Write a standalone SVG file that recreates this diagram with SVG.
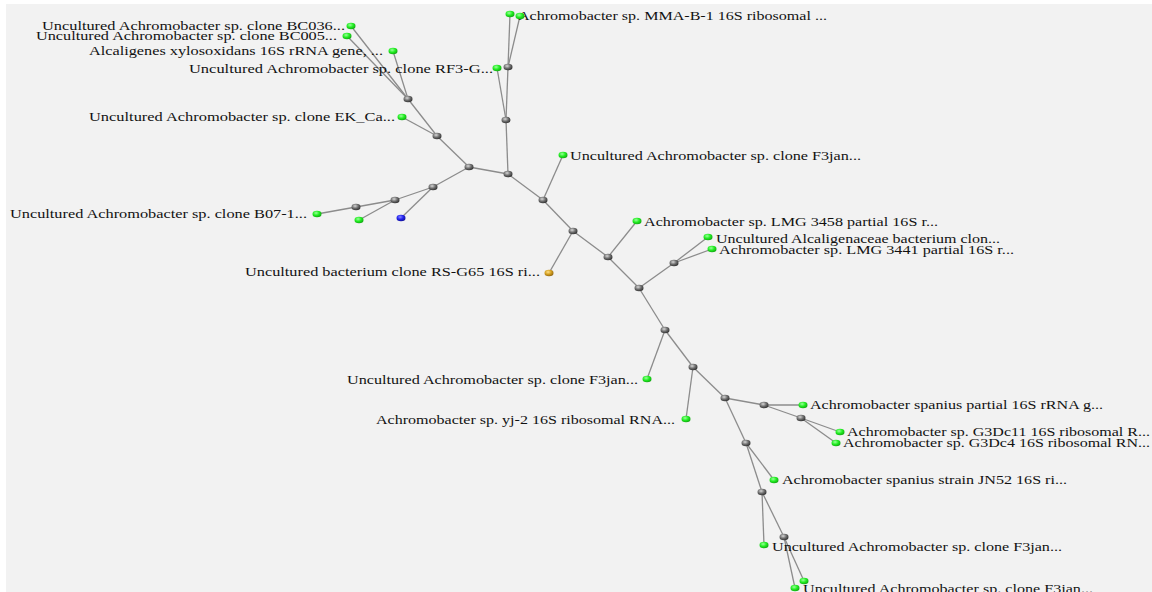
<svg xmlns="http://www.w3.org/2000/svg" width="1152" height="592" viewBox="0 0 1152 592">
<defs>
<radialGradient id="gInt" cx="0.4" cy="0.35" r="0.7"><stop offset="0" stop-color="#d8d8d8"/><stop offset="0.5" stop-color="#707070"/><stop offset="1" stop-color="#2a2a2a"/></radialGradient>
<radialGradient id="gLeaf" cx="0.4" cy="0.35" r="0.7"><stop offset="0" stop-color="#9dff9d"/><stop offset="0.5" stop-color="#22ee22"/><stop offset="1" stop-color="#10a010"/></radialGradient>
<radialGradient id="gBlue" cx="0.4" cy="0.35" r="0.7"><stop offset="0" stop-color="#8a8aff"/><stop offset="0.5" stop-color="#2222ee"/><stop offset="1" stop-color="#101090"/></radialGradient>
<radialGradient id="gGold" cx="0.4" cy="0.35" r="0.7"><stop offset="0" stop-color="#ffe08a"/><stop offset="0.5" stop-color="#d4a020"/><stop offset="1" stop-color="#8a6010"/></radialGradient>
</defs>
<style>
.e{stroke:#8c8c8c;stroke-width:1.3;fill:none}
.n{fill:url(#gInt)}
.l{fill:url(#gLeaf)}
text{font-family:"Liberation Serif","Times New Roman",serif;font-size:12.5px;fill:#111}
</style>
<rect x="0" y="0" width="1152" height="592" fill="#ffffff"/>
<rect x="6" y="4" width="1146" height="588" fill="#f2f2f2"/>
<g id="connectors">
<line class="e" x1="408" y1="99" x2="351" y2="26"/>
<line class="e" x1="408" y1="99" x2="347" y2="36"/>
<line class="e" x1="408" y1="99" x2="393" y2="51"/>
<line class="e" x1="437" y1="136" x2="408" y2="99"/>
<line class="e" x1="437" y1="136" x2="402" y2="117"/>
<line class="e" x1="469" y1="167" x2="437" y2="136"/>
<line class="e" x1="469" y1="167" x2="508" y2="174"/>
<line class="e" x1="469" y1="167" x2="433" y2="187"/>
<line class="e" x1="433" y1="187" x2="395" y2="200"/>
<line class="e" x1="433" y1="187" x2="401" y2="218"/>
<line class="e" x1="395" y1="200" x2="356" y2="207"/>
<line class="e" x1="395" y1="200" x2="359" y2="220"/>
<line class="e" x1="356" y1="207" x2="317" y2="214"/>
<line class="e" x1="508" y1="174" x2="506" y2="120"/>
<line class="e" x1="506" y1="120" x2="508" y2="67"/>
<line class="e" x1="506" y1="120" x2="497" y2="68"/>
<line class="e" x1="508" y1="67" x2="510" y2="14"/>
<line class="e" x1="508" y1="67" x2="520" y2="16"/>
<line class="e" x1="508" y1="174" x2="543" y2="200"/>
<line class="e" x1="543" y1="200" x2="563" y2="155"/>
<line class="e" x1="543" y1="200" x2="573" y2="231"/>
<line class="e" x1="573" y1="231" x2="549" y2="273"/>
<line class="e" x1="573" y1="231" x2="608" y2="257"/>
<line class="e" x1="608" y1="257" x2="637" y2="221"/>
<line class="e" x1="608" y1="257" x2="639" y2="288"/>
<line class="e" x1="639" y1="288" x2="674" y2="263"/>
<line class="e" x1="674" y1="263" x2="708" y2="237"/>
<line class="e" x1="674" y1="263" x2="712" y2="249"/>
<line class="e" x1="639" y1="288" x2="665" y2="330"/>
<line class="e" x1="665" y1="330" x2="647" y2="379"/>
<line class="e" x1="665" y1="330" x2="693" y2="367"/>
<line class="e" x1="693" y1="367" x2="686" y2="419"/>
<line class="e" x1="693" y1="367" x2="725" y2="398"/>
<line class="e" x1="725" y1="398" x2="764" y2="405"/>
<line class="e" x1="764" y1="405" x2="803" y2="405"/>
<line class="e" x1="764" y1="405" x2="801" y2="418"/>
<line class="e" x1="801" y1="418" x2="840" y2="432"/>
<line class="e" x1="801" y1="418" x2="836" y2="443"/>
<line class="e" x1="725" y1="398" x2="746" y2="443"/>
<line class="e" x1="746" y1="443" x2="774" y2="480"/>
<line class="e" x1="746" y1="443" x2="762" y2="492"/>
<line class="e" x1="762" y1="492" x2="764" y2="545"/>
<line class="e" x1="762" y1="492" x2="784" y2="537"/>
<line class="e" x1="784" y1="537" x2="804" y2="581"/>
<line class="e" x1="784" y1="537" x2="795" y2="588"/>
</g>
<g id="internal-nodes">
<ellipse class="n" cx="408" cy="99" rx="4.5" ry="3.3"/>
<ellipse class="n" cx="437" cy="136" rx="4.5" ry="3.3"/>
<ellipse class="n" cx="469" cy="167" rx="4.5" ry="3.3"/>
<ellipse class="n" cx="433" cy="187" rx="4.5" ry="3.3"/>
<ellipse class="n" cx="395" cy="200" rx="4.5" ry="3.3"/>
<ellipse class="n" cx="356" cy="207" rx="4.5" ry="3.3"/>
<ellipse class="n" cx="508" cy="174" rx="4.5" ry="3.3"/>
<ellipse class="n" cx="506" cy="120" rx="4.5" ry="3.3"/>
<ellipse class="n" cx="508" cy="67" rx="4.5" ry="3.3"/>
<ellipse class="n" cx="543" cy="200" rx="4.5" ry="3.3"/>
<ellipse class="n" cx="573" cy="231" rx="4.5" ry="3.3"/>
<ellipse class="n" cx="608" cy="257" rx="4.5" ry="3.3"/>
<ellipse class="n" cx="639" cy="288" rx="4.5" ry="3.3"/>
<ellipse class="n" cx="674" cy="263" rx="4.5" ry="3.3"/>
<ellipse class="n" cx="665" cy="330" rx="4.5" ry="3.3"/>
<ellipse class="n" cx="693" cy="367" rx="4.5" ry="3.3"/>
<ellipse class="n" cx="725" cy="398" rx="4.5" ry="3.3"/>
<ellipse class="n" cx="764" cy="405" rx="4.5" ry="3.3"/>
<ellipse class="n" cx="801" cy="418" rx="4.5" ry="3.3"/>
<ellipse class="n" cx="746" cy="443" rx="4.5" ry="3.3"/>
<ellipse class="n" cx="762" cy="492" rx="4.5" ry="3.3"/>
<ellipse class="n" cx="784" cy="537" rx="4.5" ry="3.3"/>
</g>
<g id="leaf-BC036"><ellipse class="l" cx="351" cy="26" rx="4.5" ry="3.3"/><text x="42" y="30" textLength="303" lengthAdjust="spacingAndGlyphs">Uncultured Achromobacter sp. clone BC036...</text></g>
<g id="leaf-BC005"><ellipse class="l" cx="347" cy="36" rx="4.5" ry="3.3"/><text x="36" y="40" textLength="301" lengthAdjust="spacingAndGlyphs">Uncultured Achromobacter sp. clone BC005...</text></g>
<g id="leaf-alcaligenes"><ellipse class="l" cx="393" cy="51" rx="4.5" ry="3.3"/><text x="89" y="55" textLength="294" lengthAdjust="spacingAndGlyphs">Alcaligenes xylosoxidans 16S rRNA gene, ...</text></g>
<g id="leaf-RF3"><ellipse class="l" cx="497" cy="68" rx="4.5" ry="3.3"/><text x="189" y="73" textLength="304" lengthAdjust="spacingAndGlyphs">Uncultured Achromobacter sp. clone RF3-G...</text></g>
<g id="leaf-EK"><ellipse class="l" cx="402" cy="117" rx="4.5" ry="3.3"/><text x="89" y="121" textLength="306" lengthAdjust="spacingAndGlyphs">Uncultured Achromobacter sp. clone EK_Ca...</text></g>
<g id="leaf-B07"><ellipse class="l" cx="317" cy="214" rx="4.5" ry="3.3"/><text x="10" y="218" textLength="297" lengthAdjust="spacingAndGlyphs">Uncultured Achromobacter sp. clone B07-1...</text></g>
<g id="leaf-unlabeled-1"><ellipse class="l" cx="359" cy="220" rx="4.5" ry="3.3"/></g>
<g id="leaf-blue"><ellipse fill="url(#gBlue)" cx="401" cy="218" rx="4.5" ry="3.3"/></g>
<g id="leaf-top"><ellipse class="l" cx="510" cy="14" rx="4.5" ry="3.3"/></g>
<g id="leaf-MMA"><text x="518" y="20" textLength="309" lengthAdjust="spacingAndGlyphs">Achromobacter sp. MMA-B-1 16S ribosomal ...</text><ellipse class="l" cx="520" cy="16" rx="4.5" ry="3.3"/></g>
<g id="leaf-F3jan-top"><ellipse class="l" cx="563" cy="155" rx="4.5" ry="3.3"/><text x="570" y="160" textLength="291" lengthAdjust="spacingAndGlyphs">Uncultured Achromobacter sp. clone F3jan...</text></g>
<g id="leaf-RSG65"><ellipse fill="url(#gGold)" cx="549" cy="273" rx="4.5" ry="3.3"/><text x="245" y="276" textLength="295" lengthAdjust="spacingAndGlyphs">Uncultured bacterium clone RS-G65 16S ri...</text></g>
<g id="leaf-LMG3458"><ellipse class="l" cx="637" cy="221" rx="4.5" ry="3.3"/><text x="644" y="226" textLength="294" lengthAdjust="spacingAndGlyphs">Achromobacter sp. LMG 3458 partial 16S r...</text></g>
<g id="leaf-alcaligenaceae"><ellipse class="l" cx="708" cy="237" rx="4.5" ry="3.3"/><text x="716" y="243" textLength="284" lengthAdjust="spacingAndGlyphs">Uncultured Alcaligenaceae bacterium clon...</text></g>
<g id="leaf-LMG3441"><ellipse class="l" cx="712" cy="249" rx="4.5" ry="3.3"/><text x="719" y="254" textLength="295" lengthAdjust="spacingAndGlyphs">Achromobacter sp. LMG 3441 partial 16S r...</text></g>
<g id="leaf-F3jan-mid"><ellipse class="l" cx="647" cy="379" rx="4.5" ry="3.3"/><text x="347" y="384" textLength="291" lengthAdjust="spacingAndGlyphs">Uncultured Achromobacter sp. clone F3jan...</text></g>
<g id="leaf-yj2"><ellipse class="l" cx="686" cy="419" rx="4.5" ry="3.3"/><text x="376" y="424" textLength="299" lengthAdjust="spacingAndGlyphs">Achromobacter sp. yj-2 16S ribosomal RNA...</text></g>
<g id="leaf-spanius-partial"><ellipse class="l" cx="803" cy="405" rx="4.5" ry="3.3"/><text x="810" y="409" textLength="293" lengthAdjust="spacingAndGlyphs">Achromobacter spanius partial 16S rRNA g...</text></g>
<g id="leaf-G3Dc11"><ellipse class="l" cx="840" cy="432" rx="4.5" ry="3.3"/><text x="847" y="436" textLength="303" lengthAdjust="spacingAndGlyphs">Achromobacter sp. G3Dc11 16S ribosomal R...</text></g>
<g id="leaf-G3Dc4"><ellipse class="l" cx="836" cy="443" rx="4.5" ry="3.3"/><text x="843" y="447" textLength="307" lengthAdjust="spacingAndGlyphs">Achromobacter sp. G3Dc4 16S ribosomal RN...</text></g>
<g id="leaf-JN52"><ellipse class="l" cx="774" cy="480" rx="4.5" ry="3.3"/><text x="782" y="484" textLength="285" lengthAdjust="spacingAndGlyphs">Achromobacter spanius strain JN52 16S ri...</text></g>
<g id="leaf-F3jan-low"><ellipse class="l" cx="764" cy="545" rx="4.5" ry="3.3"/><text x="772" y="551" textLength="290" lengthAdjust="spacingAndGlyphs">Uncultured Achromobacter sp. clone F3jan...</text></g>
<g id="leaf-unlabeled-2"><ellipse class="l" cx="804" cy="581" rx="4.5" ry="3.3"/></g>
<g id="leaf-F3jan-bottom"><ellipse class="l" cx="795" cy="588" rx="4.5" ry="3.3"/><text x="803" y="593" textLength="290" lengthAdjust="spacingAndGlyphs">Uncultured Achromobacter sp. clone F3jan...</text></g>
</svg>
